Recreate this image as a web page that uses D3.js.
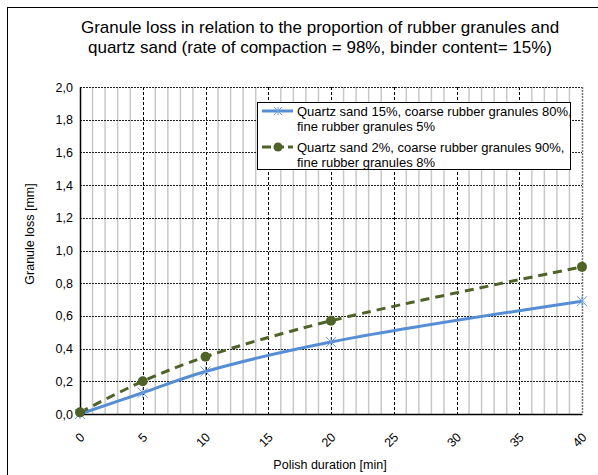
<!DOCTYPE html>
<html><head><meta charset="utf-8">
<script src="https://cdn.jsdelivr.net/npm/d3@7"></script>
<style>body{margin:0;background:#fff;}svg{display:block;font-family:"Liberation Sans",Arial,sans-serif;}</style>
</head><body><svg id="c" width="598" height="475"></svg>
<script>
const titleLines = ["Granule loss in relation to the proportion of rubber granules and","quartz sand (rate of compaction = 98%, binder content= 15%)"];
const xValues = [0, 5, 10, 20, 40];
const series1 = [0.00, 0.13, 0.26, 0.44, 0.69];
const series2 = [0.01, 0.20, 0.35, 0.57, 0.90];
const seriesNames = [["Quartz sand 15%, coarse rubber granules 80%,","fine rubber granules 5%"],["Quartz sand 2%, coarse rubber granules 90%,","fine rubber granules 8%"]];
const xTicks = [0,5,10,15,20,25,30,35,40];
const yTicks = [0,0.2,0.4,0.6,0.8,1.0,1.2,1.4,1.6,1.8,2.0];
const xTitle = "Polish duration [min]";
const yTitle = "Granule loss [mm]";

const svg = d3.select("#c");
const L=80, R=582, T=87, B=414;
const x = d3.scaleLinear().domain([0,40]).range([L,R]);
const y = d3.scaleLinear().domain([0,2]).range([B,T]);

// outer frame
svg.append("rect").attr("x",7.5).attr("y",7.5).attr("width",600).attr("height",480).attr("fill","none").attr("stroke","#000").attr("stroke-width",1);

// title
svg.append("text").attr("x",320).attr("font-size",17).attr("text-anchor","middle").attr("fill","#000")
  .selectAll("tspan").data(titleLines).join("tspan").attr("x",320).attr("y",(d,i)=>33+i*20).text(d=>d);

// minor verticals
const g = svg.append("g");
g.selectAll("line.minor").data(d3.range(1,40).filter(v=>v%5!==0)).join("line")
  .attr("x1",d=>x(d)).attr("x2",d=>x(d)).attr("y1",T).attr("y2",B)
  .attr("stroke","#c8c8c8").attr("stroke-width",1.5);
// major verticals
g.selectAll("line.vmaj").data(xTicks.filter(v=>v>0&&v<40)).join("line")
  .attr("x1",d=>Math.round(x(d))+0.5).attr("x2",d=>Math.round(x(d))+0.5).attr("y1",T).attr("y2",B)
  .attr("stroke","#000").attr("stroke-width",1).attr("stroke-dasharray","3,2");
// horizontal grid
g.selectAll("line.h").data(yTicks.filter(v=>v>0)).join("line")
  .attr("x1",L).attr("x2",R).attr("y1",d=>Math.round(y(d))+0.5).attr("y2",d=>Math.round(y(d))+0.5)
  .attr("stroke","#222").attr("stroke-width",1).attr("stroke-dasharray","2,1");
// right border
g.append("line").attr("x1",R+0.5).attr("x2",R+0.5).attr("y1",T).attr("y2",B)
  .attr("stroke","#777").attr("stroke-width",1.5).attr("stroke-dasharray","2,1");

// axes
const yAxis = d3.axisLeft(y).tickValues(yTicks).tickSize(0).tickPadding(7).tickFormat(d=>d3.format(".1f")(d).replace(".",","));
const ya = svg.append("g").attr("transform",`translate(${L},0)`).call(yAxis);
ya.select(".domain").attr("stroke","#000").attr("stroke-width",1.5);
ya.selectAll("text").attr("font-size",12.5).attr("fill","#000").attr("font-family","Liberation Sans, Arial, sans-serif");

const xAxis = d3.axisBottom(x).tickValues(xTicks).tickSize(0).tickFormat(d=>d);
const xa = svg.append("g").attr("transform",`translate(0,${B})`).call(xAxis);
xa.select(".domain").attr("stroke","#000").attr("stroke-width",1.5);
xa.selectAll("text").attr("font-size",12.5).attr("fill","#000").attr("font-family","Liberation Sans, Arial, sans-serif")
  .attr("text-anchor","end").attr("dy",null).attr("y",0)
  .attr("transform","translate(5,24) rotate(-45)");

// axis titles
svg.append("text").attr("x",330).attr("y",469).attr("text-anchor","middle").attr("font-size",12.5).text(xTitle);
svg.append("text").attr("transform",`translate(34,234) rotate(-90)`).attr("text-anchor","middle").attr("font-size",12.5).text(yTitle);

// lines
const blue="#558ED5", green="#4F6228";
const d1 = xValues.map((v,i)=>[v,series1[i]]);
const d2 = xValues.map((v,i)=>[v,series2[i]]);
const line = d3.line().x(d=>x(d[0])).y(d=>y(d[1])).curve(d3.curveCatmullRom.alpha(0.5));
svg.append("path").datum(d1).attr("d",line).attr("fill","none").attr("stroke",blue).attr("stroke-width",3);
svg.append("path").datum(d2).attr("d",line).attr("fill","none").attr("stroke",green).attr("stroke-width",3).attr("stroke-dasharray","9,6");

function star(sel, cx, cy, s, col){
  const gg = sel.append("g").attr("stroke",col).attr("stroke-width",1);
  gg.append("line").attr("x1",cx-s).attr("x2",cx+s).attr("y1",cy-s).attr("y2",cy+s);
  gg.append("line").attr("x1",cx-s).attr("x2",cx+s).attr("y1",cy+s).attr("y2",cy-s);
  gg.append("line").attr("x1",cx).attr("x2",cx).attr("y1",cy-s).attr("y2",cy+s);
}
d1.forEach(d=>star(svg, x(d[0]), y(d[1]), 5, "#6fa0e0"));
svg.selectAll("circle.m").data(d2).join("circle").attr("cx",d=>x(d[0])).attr("cy",d=>y(d[1])).attr("r",5).attr("fill",green);

// legend
const lg = svg.append("g");
lg.append("rect").attr("x",257.5).attr("y",102.5).attr("width",313).attr("height",67).attr("fill","#fff").attr("stroke","#000").attr("stroke-width",1);
[0,1].forEach(i=>{
  const yy = 111 + i*36;
  if(i===0){
    lg.append("line").attr("x1",262).attr("x2",293).attr("y1",yy).attr("y2",yy).attr("stroke",blue).attr("stroke-width",3);
    star(lg, 278, yy, 4, "#6fa0e0");
  } else {
    lg.append("line").attr("x1",262).attr("x2",293).attr("y1",yy).attr("y2",yy).attr("stroke",green).attr("stroke-width",3).attr("stroke-dasharray","9,4");
    lg.append("circle").attr("cx",278).attr("cy",yy).attr("r",4.5).attr("fill",green);
  }
  lg.append("text").attr("font-size",13).attr("fill","#000").selectAll("tspan").data(seriesNames[i]).join("tspan")
    .attr("x",297).attr("y",(d,j)=>yy+5+j*15).text(d=>d);
});
</script></body></html>
